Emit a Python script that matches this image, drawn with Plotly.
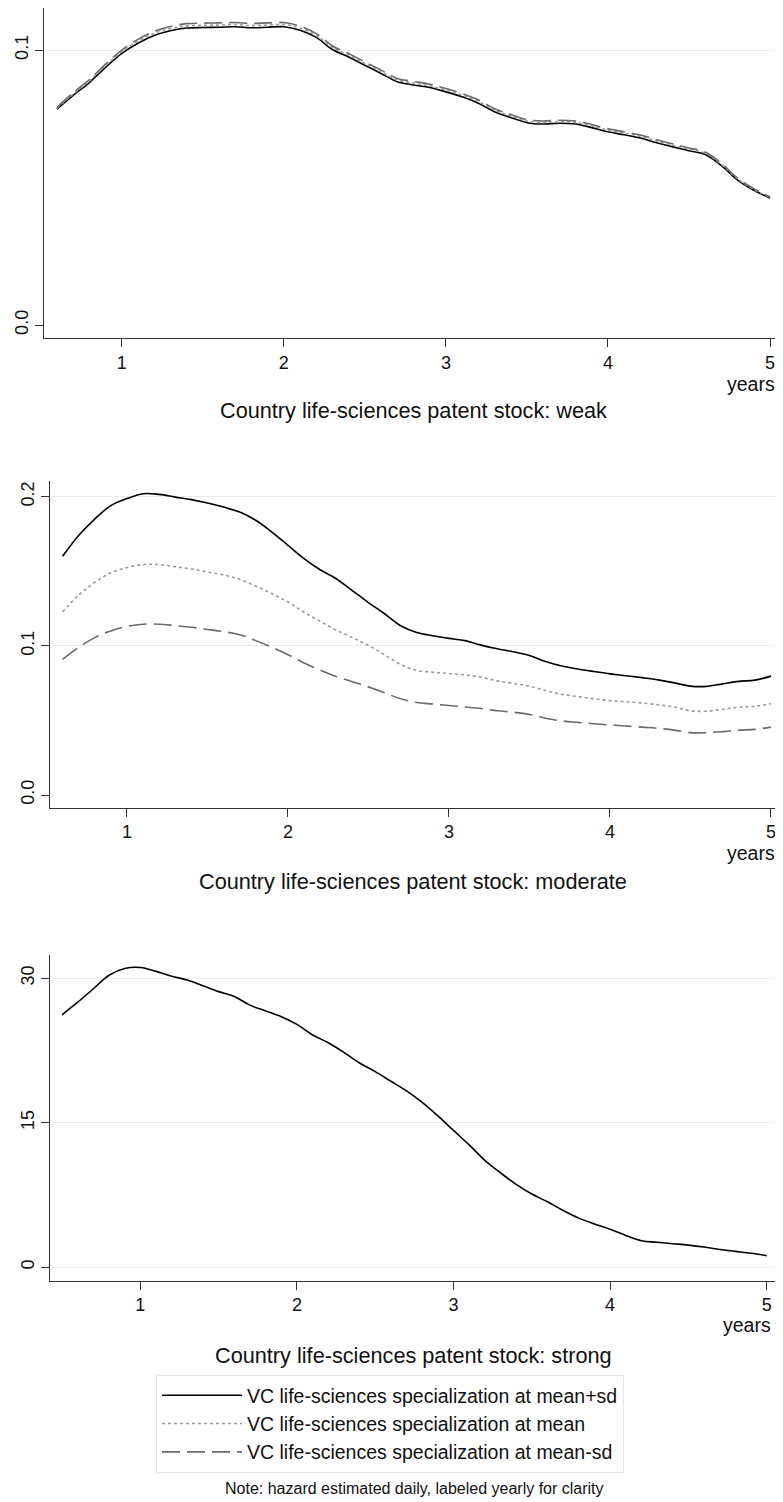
import plotly.graph_objects as go

# page body has an 8px margin: lay out in reference pixels, shifted by OFF
OFF = 8
W, H = 783 - OFF, 1502 - OFF

# ---------------- data ----------------
years_wm = [0.6, 0.7, 0.8, 0.9, 1.0, 1.1, 1.2, 1.3, 1.4, 1.5, 1.6, 1.7, 1.8, 1.9, 2.0,
            2.1, 2.2, 2.3, 2.4, 2.5, 2.6, 2.7, 2.8, 2.9, 3.0, 3.1, 3.2, 3.3, 3.4, 3.5,
            3.6, 3.7, 3.8, 3.9, 4.0, 4.1, 4.2, 4.3, 4.4, 4.5, 4.6, 4.7, 4.8, 4.9, 5.0]

weak_plus_sd = [0.0785, 0.0835, 0.0882, 0.0937, 0.0988, 0.1025, 0.1053, 0.1070, 0.1080, 0.1082,
                0.1083, 0.1085, 0.1081, 0.1083, 0.1085, 0.1072, 0.1046, 0.1002, 0.0975, 0.0945,
                0.0915, 0.0885, 0.0873, 0.0864, 0.0848, 0.0830, 0.0807, 0.0776, 0.0755, 0.0736,
                0.0731, 0.0734, 0.0731, 0.0718, 0.0703, 0.0692, 0.0680, 0.0663, 0.0648, 0.0634,
                0.0620, 0.0580, 0.0527, 0.0490, 0.0462]
weak_mean = [0.0789, 0.0840, 0.0888, 0.0943, 0.0994, 0.1032, 0.1061, 0.1078, 0.1088, 0.1090,
             0.1091, 0.1093, 0.1089, 0.1091, 0.1093, 0.1080, 0.1053, 0.1009, 0.0981, 0.0951,
             0.0921, 0.0891, 0.0880, 0.0870, 0.0854, 0.0836, 0.0813, 0.0782, 0.0761, 0.0742,
             0.0737, 0.0740, 0.0737, 0.0724, 0.0709, 0.0698, 0.0686, 0.0669, 0.0654, 0.0639,
             0.0625, 0.0584, 0.0531, 0.0493, 0.0464]
weak_minus_sd = [0.0792, 0.0845, 0.0893, 0.0949, 0.1000, 0.1039, 0.1068, 0.1086, 0.1096, 0.1098,
                 0.1099, 0.1100, 0.1097, 0.1099, 0.1100, 0.1087, 0.1060, 0.1015, 0.0987, 0.0957,
                 0.0927, 0.0897, 0.0886, 0.0876, 0.0860, 0.0842, 0.0819, 0.0787, 0.0766, 0.0747,
                 0.0742, 0.0745, 0.0742, 0.0729, 0.0714, 0.0703, 0.0691, 0.0674, 0.0659, 0.0644,
                 0.0629, 0.0588, 0.0534, 0.0496, 0.0466]

moderate_plus_sd = [0.160, 0.174, 0.185, 0.194, 0.1987, 0.202, 0.2015, 0.1997, 0.198, 0.1957,
                    0.193, 0.1897, 0.1842, 0.1763, 0.1674, 0.1585, 0.151, 0.145, 0.137, 0.129,
                    0.1215, 0.1135, 0.1090, 0.1068, 0.1050, 0.1035, 0.1005, 0.0980, 0.0960, 0.0935,
                    0.0895, 0.0865, 0.0845, 0.0828, 0.0812, 0.0800, 0.0787, 0.0772, 0.0752, 0.0730,
                    0.0728, 0.0745, 0.0762, 0.0770, 0.0797]
moderate_mean = [0.1227, 0.134, 0.1425, 0.149, 0.1525, 0.1545, 0.1545, 0.153, 0.1515, 0.1495,
                 0.1475, 0.1445, 0.1400, 0.1350, 0.1294, 0.1225, 0.1165, 0.1105, 0.1055, 0.1003,
                 0.0940, 0.0875, 0.0835, 0.0823, 0.0815, 0.0805, 0.0790, 0.0765, 0.0748, 0.0730,
                 0.0700, 0.0675, 0.0660, 0.0645, 0.0633, 0.0625, 0.0617, 0.0605, 0.0590, 0.0565,
                 0.0562, 0.0575, 0.0588, 0.0595, 0.0612]
moderate_minus_sd = [0.0909, 0.099, 0.1055, 0.110, 0.113, 0.1145, 0.1145, 0.1135, 0.1125, 0.111,
                     0.1095, 0.1075, 0.1035, 0.0990, 0.0940, 0.0885, 0.0838, 0.0795, 0.0760, 0.0725,
                     0.0685, 0.0645, 0.0620, 0.0610, 0.0600, 0.0590, 0.0580, 0.0565, 0.0555, 0.0540,
                     0.0515, 0.0497, 0.0487, 0.0478, 0.0470, 0.0463, 0.0455, 0.0447, 0.0435, 0.0418,
                     0.0418, 0.0425, 0.0435, 0.0440, 0.0455]

years_s = [0.5, 0.6, 0.7, 0.8, 0.9, 1.0, 1.1, 1.2, 1.3, 1.4, 1.5, 1.6, 1.7, 1.8, 1.9, 2.0,
           2.1, 2.2, 2.3, 2.4, 2.5, 2.6, 2.7, 2.8, 2.9, 3.0, 3.1, 3.2, 3.3, 3.4, 3.5,
           3.6, 3.7, 3.8, 3.9, 4.0, 4.1, 4.2, 4.3, 4.4, 4.5, 4.6, 4.7, 4.8, 4.9, 5.0]
strong_plus_sd = [26.2, 27.5, 28.9, 30.3, 31.0, 31.1, 30.7, 30.2, 29.8, 29.2, 28.6, 28.1, 27.2,
                  26.6, 26.0, 25.2, 24.1, 23.3, 22.3, 21.2, 20.3, 19.3, 18.3, 17.1, 15.7, 14.2,
                  12.7, 11.1, 9.8, 8.6, 7.6, 6.8, 5.9, 5.1, 4.5, 3.95, 3.3, 2.75, 2.6, 2.45, 2.3,
                  2.1, 1.85, 1.65, 1.45, 1.2]

series_names = ["VC life-sciences specialization at mean+sd",
                "VC life-sciences specialization at mean",
                "VC life-sciences specialization at mean-sd"]
panel_titles = ["Country life-sciences patent stock: weak",
                "Country life-sciences patent stock: moderate",
                "Country life-sciences patent stock: strong"]
x_ticks = [1, 2, 3, 4, 5]
y_ticks_weak = [0.0, 0.1]
y_grid_weak = [0.1]
y_ticks_moderate = [0.0, 0.1, 0.2]
y_grid_moderate = [0.1, 0.2]
y_ticks_strong = [0, 15, 30]
note_text = "Note: hazard estimated daily, labeled yearly for clarity"

# ---------------- styles ----------------
FONT = "Liberation Sans, Arial, Helvetica, sans-serif"
styles = [dict(color="#000000", width=1.6, dash="solid"),
          dict(color="#9a9a9a", width=1.6, dash="3px,3px"),
          dict(color="#6a6a6a", width=1.6, dash="18px,7px")]
GRID = "#e4eef0"
AX = "#333333"

def py(px):
    return 1 - (px - OFF) / H

def pxx(px):
    return (px - OFF) / W

fig = go.Figure()

# visible traces on base axes (which carry the gridlines); an invisible copy on the
# overlaying labelled axis keeps that axis drawn
panels = [
    ("x", "y", "y4", years_wm, [weak_plus_sd, weak_mean, weak_minus_sd], True),
    ("x2", "y2", "y5", years_wm, [moderate_plus_sd, moderate_mean, moderate_minus_sd], False),
    ("x3", "y3", None, years_s, [strong_plus_sd], False),
]
for xa, ya, ylab, xs, ys_list, show in panels:
    for i, ys in enumerate(ys_list):
        fig.add_trace(go.Scatter(
            x=xs, y=ys, mode="lines", xaxis=xa, yaxis=ya,
            name=series_names[i], line=styles[i], showlegend=show,
            line_shape="spline"))
    if ylab:
        fig.add_trace(go.Scatter(
            x=xs, y=ys_list[0], mode="lines", xaxis=xa, yaxis=ylab,
            line=dict(width=0, color="rgba(0,0,0,0)"), opacity=0,
            showlegend=False, hoverinfo="skip"))

def xaxis(domain, rng, anchor):
    return dict(domain=domain, range=rng, anchor=anchor, tickvals=x_ticks,
                ticks="outside", ticklen=8, tickwidth=1.3, tickcolor=AX,
                showline=True, linecolor=AX, linewidth=1.3, showgrid=False,
                zeroline=False, tickfont=dict(family=FONT, size=18, color="#111"))

def yaxis(domain, rng, anchor, tv, tt):
    return dict(domain=domain, range=rng, anchor=anchor, tickvals=tv, ticktext=tt,
                ticks="outside", ticklen=8, tickwidth=1.3, tickcolor=AX,
                showline=True, linecolor=AX, linewidth=1.3, showgrid=False,
                zeroline=False, tickangle=-90,
                tickfont=dict(family=FONT, size=18, color="#111"))

def gridonly(domain, rng, anchor, tv):
    # base axis that only provides the light gridlines
    return dict(domain=domain, range=rng, anchor=anchor, tickvals=tv,
                showticklabels=False, ticks="", showline=False, showgrid=True,
                gridcolor=GRID, gridwidth=1.3, zeroline=False)

dom_y1 = [py(338), py(8)]
rng_y1 = [-0.0047, 0.1153]
dom_y2 = [py(807.7), py(480.7)]
rng_y2 = [-0.0085, 0.2107]

lab1 = yaxis(dom_y1, rng_y1, "x", y_ticks_weak, ["0.0", "0.1"])
lab1.update(overlaying="y", side="left")
lab2 = yaxis(dom_y2, rng_y2, "x2", y_ticks_moderate, ["0.0", "0.1", "0.2"])
lab2.update(overlaying="y2", side="left")
ax3 = yaxis([py(1280.7), py(955)], [-1.39, 32.4], "x3", y_ticks_strong, ["0", "15", "30"])
ax3.update(showgrid=True, gridcolor=GRID, gridwidth=1.3)

fig.update_layout(
    width=W, height=H, margin=dict(l=0, r=0, t=0, b=0),
    paper_bgcolor="white", plot_bgcolor="white",
    font=dict(family=FONT, color="#111"),
    xaxis=xaxis([pxx(44), 1.0], [0.52, 5.08], "y"),
    yaxis=gridonly(dom_y1, rng_y1, "x", y_grid_weak),
    yaxis4=lab1,
    xaxis2=xaxis([pxx(50), 1.0], [0.522, 5.075], "y2"),
    yaxis2=gridonly(dom_y2, rng_y2, "x2", y_grid_moderate),
    yaxis5=lab2,
    xaxis3=xaxis([pxx(50), pxx(780)], [0.423, 5.085], "y3"),
    yaxis3=ax3,
    legend=dict(x=pxx(156), y=py(1375), xanchor="left", yanchor="top",
                bordercolor="#e2e8ea", borderwidth=1, bgcolor="white",
                font=dict(family=FONT, size=19.5, color="#111"),
                itemwidth=80, tracegroupgap=0),
    showlegend=True,
)

annots = []
for title, yc in zip(panel_titles, [410, 882, 1355]):
    annots.append(dict(text=title, x=pxx(413), y=py(yc), xref="paper", yref="paper",
                       showarrow=False, xanchor="center", yanchor="middle",
                       font=dict(family=FONT, size=21.7, color="#111")))
for yc, xr in zip([384, 853, 1325], [777, 777, 773]):
    annots.append(dict(text="years", x=pxx(xr), y=py(yc), xref="paper", yref="paper",
                       showarrow=False, xanchor="right", yanchor="middle",
                       font=dict(family=FONT, size=19.5, color="#111")))
annots.append(dict(text=note_text, x=pxx(414), y=py(1488), xref="paper", yref="paper",
                   showarrow=False, xanchor="center", yanchor="middle",
                   font=dict(family=FONT, size=16, color="#111")))
fig.update_layout(annotations=annots)

fig.write_html("out.html")
